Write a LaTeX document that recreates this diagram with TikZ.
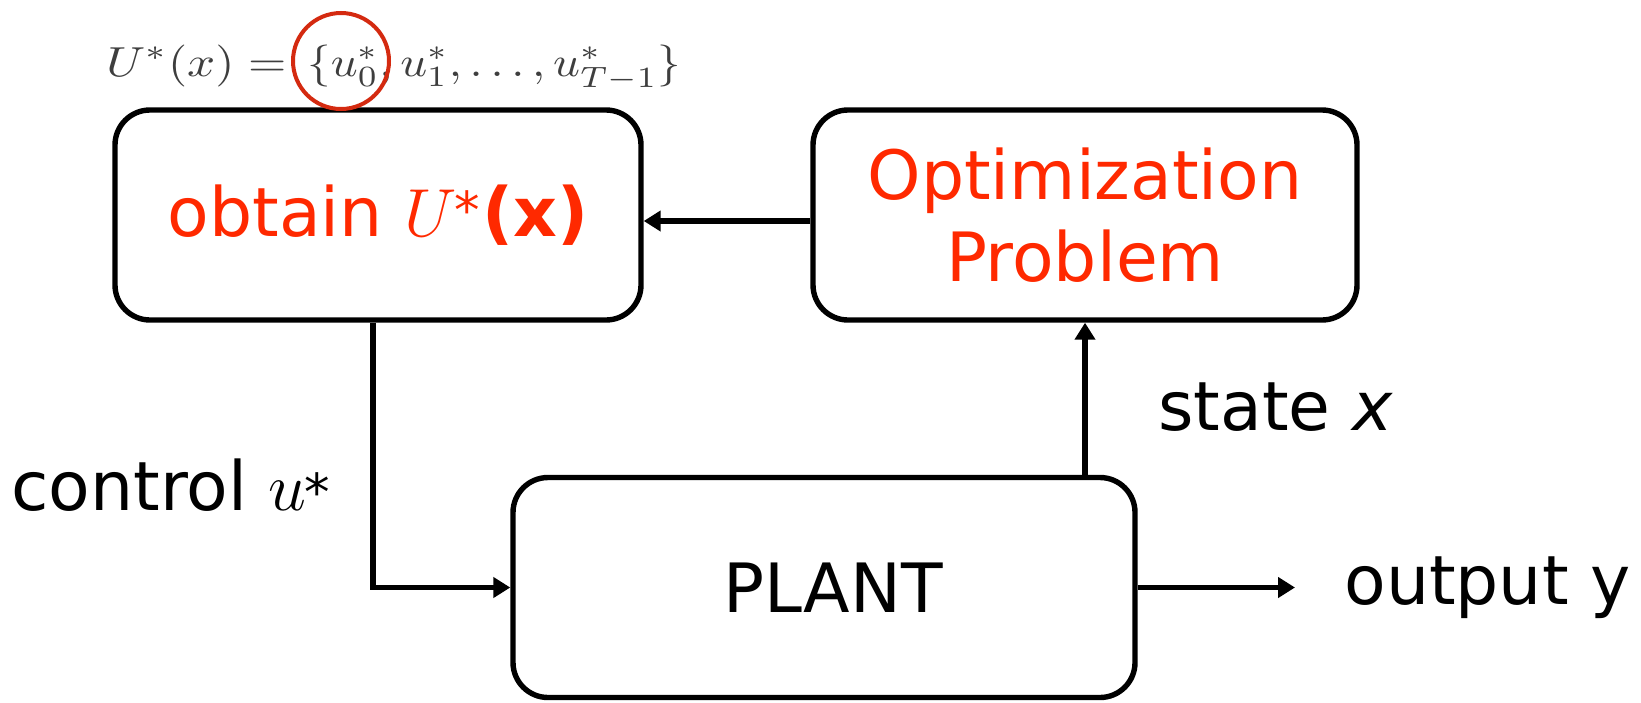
\RequirePackage{fix-cm}
\documentclass[tikz,border=0pt]{standalone}
\usepackage{fontspec}
\setmainfont{DejaVu Sans}
\usetikzlibrary{arrows.meta,calc}
\definecolor{optred}{RGB}{255,41,0}
\definecolor{circred}{RGB}{212,42,16}
\definecolor{formgray}{RGB}{62,62,62}
% small sans asterisk used as a superscript star
\newcommand{\sstar}[1]{\kern-1pt\raisebox{#1}{\scalebox{0.75}{*}}}
\tikzset{
  block/.style={draw=black, line width=2.7pt, rounded corners=17.5pt,
    align=center, inner sep=0pt, font=\fontsize{34pt}{41pt}\selectfont},
  flow/.style={draw=black, line width=2.6pt,
    -{Triangle[length=8.5pt,width=10pt]}},
  lbl/.style={inner sep=0pt, anchor=base west,
    font=\fontsize{34pt}{41pt}\selectfont},
  formula/.style={inner sep=0pt, anchor=base west, text=formgray},
}
\begin{document}
\begin{tikzpicture}[x=0.5pt,y=-0.5pt]
\useasboundingbox (0,0) rectangle (1641,702);

% the three blocks
\node[block, minimum width=263pt, minimum height=105pt, text=optred]
  (obt) at (378,215) {obtain \(U\)\sstar{4pt}\kern1pt\textbf{(x)}};
\node[block, minimum width=272pt, minimum height=105pt, text=optred]
  (opt) at (1085,215) {Optimization\\Problem};
\node[block, minimum width=311pt, minimum height=110pt]
  (plant) at (824,587.5) {\hspace*{9pt}PLANT};

% optimal control sequence and the marked first move
\node[formula] (seql) at (106,76)
  {\resizebox{90pt}{15.75pt}{\(U^*(x)=\)}};
\node[formula] (seqr) at (307,76)
  {\resizebox{187pt}{15.75pt}{\(\{u_0^*,u_1^*,\ldots,u_{T-1}^*\}\)}};
\node[draw=circred, line width=2pt, circle, minimum size=48pt, inner sep=0pt]
  (first) at (341,61) {};

% signal labels
\node[lbl] (ctl) at (11,510) {control \(u\)\sstar{0pt}};
\node[lbl] (st) at (1158,430) {state \textit{x}};
\node[lbl] (outy) at (1344,604) {output y};

% connectors
\coordinate (yend) at (1295,589);
\draw[flow] ([yshift=-3pt]opt.west) -- ([yshift=-3pt]obt.east);
\draw[flow] ([xshift=-2.5pt]obt.south) |- (plant.west);
\draw[flow] (plant.north -| opt.south) -- (opt.south);
\draw[flow] (plant.east) -- (plant.east -| yend);
\end{tikzpicture}
\end{document}
